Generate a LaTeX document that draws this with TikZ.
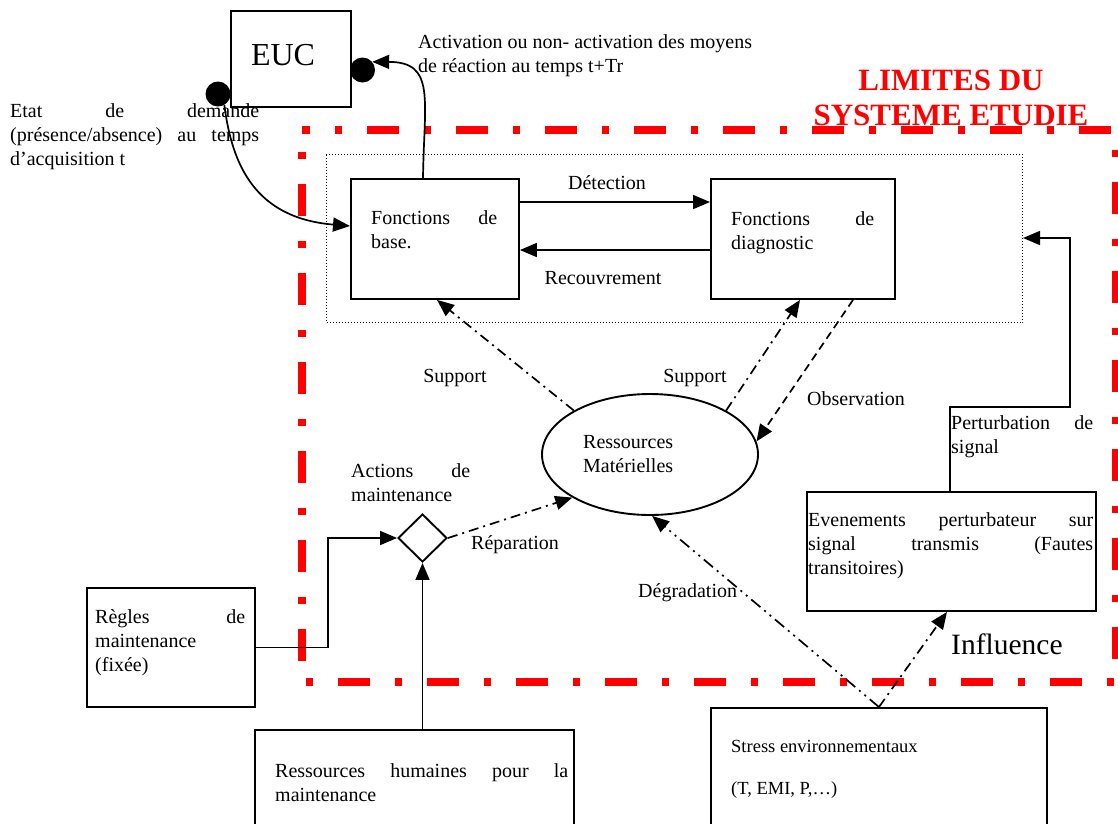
\documentclass[tikz,border=0pt]{standalone}
\usepackage{fontspec}
\setmainfont{Liberation Serif}
\usetikzlibrary{arrows.meta,shapes.geometric,calc}
\newcommand\jl[2]{\makebox[#1][s]{#2}}
\begin{document}
\begin{tikzpicture}[x=1pt,y=-1pt,
  box/.style={draw,line width=1.9pt,inner sep=0pt,anchor=north west},
  txt/.style={inner sep=0pt,anchor=base west,font=\fontsize{20}{24}\selectfont},
  ctxt/.style={txt,anchor=base},
  arr/.style={line width=1.7pt,-{Triangle[length=17pt,width=14pt]}},
  dashdot/.style={dash pattern=on 10pt off 5pt on 2pt off 5pt},
  dashdotdot/.style={dash pattern=on 12pt off 5pt on 2pt off 5pt on 2pt off 5pt},
  dsh/.style={dash pattern=on 8pt off 5pt},
  blackdot/.style={circle,fill=black,inner sep=0pt,minimum size=25pt},
]
\clip (0,0) rectangle (1118,823);
\fill[white] (0,0) rectangle (1118,823);

% system limit
\draw[red,line width=8pt,dash pattern=on 32pt off 25pt on 7pt off 25pt,dash phase=24pt]
  (302,130) -- (1116,130) -- (1116,682) -- (302,682) -- cycle;

% dotted frame
\node[draw,line width=1pt,dash pattern=on 1pt off 2pt,inner sep=0pt,anchor=north west,
  minimum width=696pt,minimum height=168pt] (dbox) at (326,154) {};

% boxes
\node[box,minimum width=120pt,minimum height=96pt] (euc) at (230,10) {};
\node[box,minimum width=168pt,minimum height=120pt] (base) at (350,178) {};
\node[box,minimum width=184pt,minimum height=120pt] (diag) at (710,178) {};
\node[draw,ellipse,line width=1.9pt,minimum width=216pt,minimum height=121pt,inner sep=0pt] (ell) at (650,454.5) {};
\node[draw,diamond,line width=1.9pt,minimum width=49pt,minimum height=48pt,inner sep=0pt] (dia) at (422.5,538) {};
\node[box,minimum width=168pt,minimum height=119pt] (rules) at (86,587) {};
\node[box,minimum width=319pt,minimum height=120pt] (rh) at (254,729) {};
\node[box,minimum width=336pt,minimum height=140pt] (stress) at (710,707) {};
\node[box,minimum width=289pt,minimum height=119pt] (ev) at (806,491) {};

% texts
\node[ctxt,font=\fontsize{32}{36}\selectfont] (tEUC) at (283,65) {EUC};
\node[txt] (tEtat) at (10,117) {\vtop{\hbox{\jl{249pt}{Etat de demande}}\hbox{\jl{249pt}{(présence/absence) au temps}}\hbox{d’acquisition t}}};
\node[txt] (tAct) at (418,48) {\vtop{\hbox{Activation ou non- activation des moyens}\hbox{de réaction au temps t+Tr}}};
\node[ctxt,text=red,font=\fontsize{31}{36}\selectfont\bfseries] (lim1) at (951,90) {LIMITES DU};
\node[ctxt,text=red,font=\fontsize{31}{36}\selectfont\bfseries] (lim2) at (951,125) {SYSTEME ETUDIE};
\node[txt] (tBase) at (371,224) {\vtop{\hbox{\jl{126pt}{Fonctions de}}\hbox{base.}}};
\node[txt] (tDiag) at (731,225) {\vtop{\hbox{\jl{143pt}{Fonctions de}}\hbox{diagnostic}}};
\node[ctxt] (tDet) at (607,189) {Détection};
\node[ctxt] (tRec) at (603,284) {Recouvrement};
\node[txt] (tRes) at (583,448) {\vtop{\hbox{Ressources}\hbox{Matérielles}}};
\node[ctxt] (tSupL) at (455,382) {Support};
\node[ctxt] (tSupR) at (695,382) {Support};
\node[txt] (tObs) at (807,405) {Observation};
\node[txt] (tAct2) at (351,477) {\vtop{\hbox{\jl{119pt}{Actions de}}\hbox{maintenance}}};
\node[txt] (tRep) at (471,549) {Réparation};
\node[txt] (tRules) at (95,623) {\vtop{\hbox{\jl{150pt}{Règles de}}\hbox{maintenance}\hbox{(fixée)}}};
\node[txt] (tRH) at (275,777) {\vtop{\hbox{\jl{293pt}{Ressources humaines pour la}}\hbox{maintenance}}};
\node[txt,font=\fontsize{18.5}{24}\selectfont] (tStress1) at (731,752) {Stress environnementaux};
\node[txt,font=\fontsize{18.5}{24}\selectfont] (tStress2) at (731,794) {(T, EMI, P,…)};
\node[txt] (tDeg) at (638,597) {Dégradation};
\node[txt] (tEv) at (808,526) {\vtop{\hbox{\jl{285pt}{Evenements perturbateur sur}}\hbox{\jl{285pt}{signal transmis (Fautes}}\hbox{transitoires)}}};
\node[txt] (tPert) at (951,429) {\vtop{\hbox{\jl{142pt}{Perturbation de}}\hbox{signal}}};
\node[txt,font=\fontsize{29.5}{34}\selectfont] (tInf) at (951,654) {Influence};

% dots on EUC
\node[blackdot] (dotL) at (218,94) {};
\node[blackdot] (dotR) at (362.5,70) {};

% connectors
\coordinate (p1) at (1070,407);
\coordinate (p2) at (1070,238);
\draw[arr] (dotL.-60) .. controls (232,165) and (255,218) .. ($(base.north west)+(0,48)$);
\draw[arr] ($(base.north west)+(73,0)$) .. controls (424,100) and (436,62) .. (dotR.40);
\draw[arr] ($(base.north east)+(0,24)$) -- ($(diag.north west)+(0,24)$);
\draw[arr] ($(diag.north west)+(0,72)$) -- ($(base.north east)+(0,72)$);
\draw[arr,dashdot] (ell.150) -- ($(base.south west)+(87,0)$);
\draw[arr,dashdot] (ell.30) -- ($(diag.south west)+(90,0)$);
\draw[arr,dsh] ($(diag.south west)+(143,0)$) -- (ell.7);
\draw[arr,dashdot] (dia.east) -- (ell.209);
\draw[arr] (rules.east) -- ++(72,0) |- (dia.west);
\draw[arr] (dia.south |- rh.north) -- (dia.south);
\draw[arr,dashdotdot] (stress.north) -- (ell.-88);
\draw[arr,dashdot] (stress.north) -- ($(ev.south west)+(141,0)$);
\draw[arr] ($(ev.north west)+(144,0)$) |- (p1) -- (p2) -- ($(dbox.north east)+(0,84)$);
\end{tikzpicture}
\end{document}
